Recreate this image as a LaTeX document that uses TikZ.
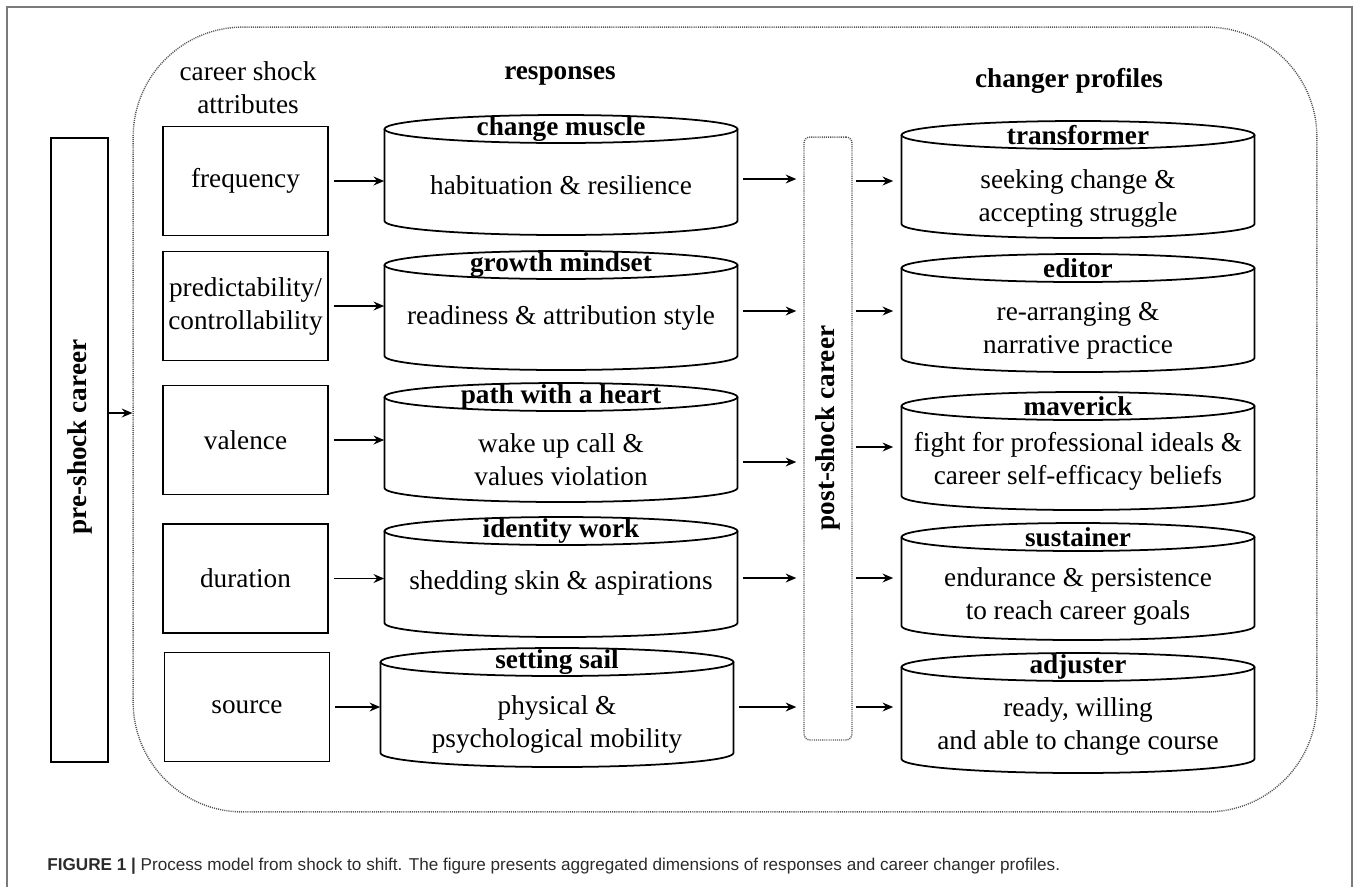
\documentclass[tikz,border=0pt]{standalone}
\usepackage{fontspec}
\setmainfont{Liberation Serif}
\newfontfamily\capfont{Liberation Sans}
\usetikzlibrary{arrows.meta}
\definecolor{rim}{HTML}{7A7A7A}
\definecolor{dots}{HTML}{555555}
\definecolor{captext}{HTML}{2B2B2B}
\tikzset{
  boxline/.style={draw, line width=1pt},
  drumline/.style={draw, line width=1pt},
  dotline/.style={draw=dots, line width=0.8pt, dash pattern=on 0.6pt off 0.6pt},
  lab/.style={font=\fontsize{15.5}{18.8}\selectfont, align=center},
  head/.style={font=\fontsize{15.5}{18.8}\selectfont\bfseries, align=center},
  attr/.style={boxline, lab, minimum width=3.3cm, minimum height=2.18cm, inner sep=0pt},
  link/.style={draw, line width=1pt, -{Stealth[length=6pt,width=5pt]}},
}
% name, centre x, top y, bottom y, text y, title, text
\newcommand{\drum}[7]{%
  \draw[drumline] (#2-176.5,#3+14) -- (#2-176.5,#4-14)
    arc[start angle=180, end angle=360, x radius=3.53cm, y radius=0.28cm]
    -- (#2+176.5,#3+14);
  \draw[drumline] (#2,#3+14) ellipse[x radius=3.53cm, y radius=0.28cm];
  \node[head] at (#2,#3+14) {#6};
  \node[lab, minimum width=7.06cm, inner xsep=0pt] (#1) at (#2,#5) {#7};
}

\begin{document}
\begin{tikzpicture}[x=0.02cm, y=-0.02cm]
  \useasboundingbox (0,0) rectangle (1358,887);
  \draw[rim, line width=1pt] (7,887) -- (7,7) -- (1352,7) -- (1352,887);

  % outer shock frame
  \node[dotline, rounded corners=2.2cm, minimum width=23.68cm, minimum height=15.7cm] (frame) at (725,419.5) {};

  % pre-shock career
  \node[boxline, minimum width=1.14cm, minimum height=12.48cm] (pre) at (79.5,450) {};
  \node[head, rotate=90] at (80,437) {pre-shock career};
  \draw[link] (pre.east |- 0,413) -- (frame.west |- 0,413);

  % column heads
  \node[lab] (hattr) at (248,88) {career shock\\attributes};
  \node[head] (hresp) at (560,76) {responses};
  \node[head] (hprof) at (1069,81) {changer profiles};

  % attributes
  \node[attr] (a1) at (245.5,181) {frequency};
  \node[attr] (a2) at (245.5,306) {predictability/\\controllability};
  \node[attr] (a3) at (245.5,440) {valence};
  \node[attr] (a4) at (245.5,578.5) {duration};
  \node[attr] (a5) at (247,707) {source};

  % responses
  \drum{r1}{561}{115}{235}{185}{change muscle}{habituation \& resilience}
  \drum{r2}{561}{251}{370}{318}{growth mindset}{readiness \& attribution style}
  \drum{r3}{561}{383}{502}{460}{path with a heart}{wake up call \&\\values violation}
  \drum{r4}{561}{517}{637}{583}{identity work}{shedding skin \& aspirations}
  \drum{r5}{557}{648}{767}{724.5}{setting sail}{physical \&\\psychological mobility}

  % post-shock career
  \node[dotline, rounded corners=0.12cm, minimum width=0.96cm, minimum height=12.06cm] (post) at (828,438.5) {};
  \node[head, rotate=90] at (828,428) {post-shock career};

  % changer profiles
  \drum{p1}{1078}{121}{238}{198}{transformer}{seeking change \&\\accepting struggle}
  \drum{p2}{1078}{254}{372}{331}{editor}{re-arranging \&\\narrative practice}
  \drum{p3}{1078}{392}{510}{461.5}{maverick}{fight for professional ideals \&\\career self-efficacy beliefs}
  \drum{p4}{1078}{523}{640}{596}{sustainer}{endurance \& persistence\\to reach career goals}
  \drum{p5}{1078}{653}{773}{726}{adjuster}{ready, willing\\and able to change course}

  % connectors
  \foreach \i in {1,...,5}
    \draw[link, shorten <=0.1cm] (a\i.east) -- (a\i.east -| r\i.west);
  \foreach \i/\y in {1/179,2/311,3/462,4/578,5/707}
    \draw[link, shorten <=0.1cm, shorten >=0.14cm] (r\i.east |- 0,\y) -- (post.west |- 0,\y);
  \foreach \i/\y in {1/181,2/311,3/447,4/578,5/707}
    \draw[link, shorten <=0.06cm, shorten >=0.16cm] (post.east |- 0,\y) -- (p\i.west |- 0,\y);

  % caption
  \node[anchor=west, inner sep=0pt, text=captext, font=\capfont\fontsize{9.75}{11}\selectfont] (cap) at (47,866)
    {{\bfseries FIGURE 1 |} Process model from shock to shift. The figure presents aggregated dimensions of responses and career changer profiles.};
\end{tikzpicture}
\end{document}
